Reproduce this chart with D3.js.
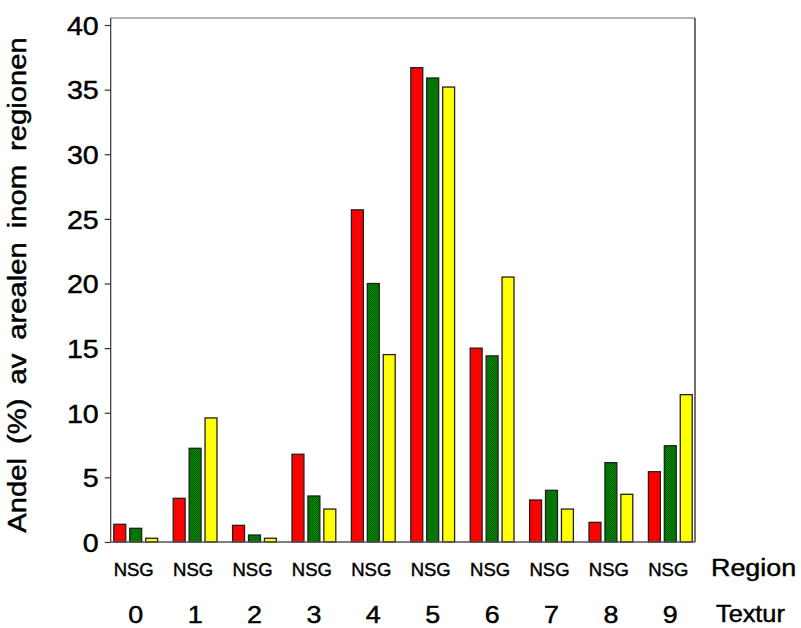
<!DOCTYPE html>
<html><head><meta charset="utf-8">
<script src="https://cdn.jsdelivr.net/npm/d3@7"></script>
<style>body{margin:0;background:#fff}svg{display:block;font-family:"Liberation Sans",Arial,sans-serif}
text{fill:#000;stroke:#000;stroke-width:0.45px}</style>
</head><body>
<svg id="c" width="801" height="628"></svg>
<script>
const regions = ["0","1","2","3","4","5","6","7","8","9"];
const seriesKeys = ["N","S","G"];
const valuesN = [1.37, 3.38, 1.29, 6.79, 25.7, 36.7, 15.0, 3.25, 1.52, 5.44];
const valuesS = [1.06, 7.25, 0.54, 3.56, 20.0, 35.9, 14.4, 4.0, 6.14, 7.45];
const valuesG = [0.29, 9.6, 0.29, 2.55, 14.5, 35.2, 20.5, 2.55, 3.69, 11.4];
const yTicks = [0,5,10,15,20,25,30,35,40];
const groupLabel = "NSG";
const rowLabels = ["Region","Textur"];
const yTitle = "Andel (%) av arealen inom regionen";

(function(){
const svg = d3.select("#c");
const defs = svg.append("defs");
const pat = defs.append("pattern").attr("id","gpat").attr("width",2).attr("height",2).attr("patternUnits","userSpaceOnUse");
pat.append("rect").attr("width",2).attr("height",2).attr("fill","#008a00");
pat.append("rect").attr("width",1).attr("height",1).attr("fill","#006000");
pat.append("rect").attr("x",1).attr("y",1).attr("width",1).attr("height",1).attr("fill","#006000");

const colors = {N:"#ff0000", S:"url(#gpat)", G:"#ffff00"};
const data = regions.map((r,i)=>({region:r, N:valuesN[i], S:valuesS[i], G:valuesG[i]}));

const pLeft=110.7, pRight=695, pTop=18, pBottom=542;
const y = d3.scaleLinear().domain([0,40]).range([542,25]);
const x = d3.scaleBand().domain(regions).range([113.3,692.7]).paddingInner(0.246).paddingOuter(0);
const xs = d3.scaleBand().domain(seriesKeys).range([0,x.bandwidth()]).paddingInner(0.1875);

// frame
svg.append("line").attr("x1",pLeft).attr("x2",pRight).attr("y1",pTop).attr("y2",pTop).attr("stroke","#666").attr("stroke-width",1.2);
svg.append("line").attr("x1",pRight).attr("x2",pRight).attr("y1",pTop).attr("y2",pBottom).attr("stroke","#111").attr("stroke-width",1.2);

// bars
const g = svg.append("g");
data.forEach(d=>{
  seriesKeys.forEach(k=>{
    g.append("rect")
      .attr("x", x(d.region)+xs(k)+0.5)
      .attr("y", y(d[k]))
      .attr("width", xs.bandwidth()-1)
      .attr("height", y(0)-y(d[k]))
      .attr("fill", colors[k])
      .attr("stroke","#222").attr("stroke-width",1.3);
  });
});

// y axis
const ya = svg.append("g").attr("transform",`translate(${pLeft},0)`)
  .call(d3.axisLeft(y).tickValues(yTicks).tickSize(6).tickPadding(6).tickFormat(d3.format("d")));
ya.select(".domain").attr("stroke","#333").attr("stroke-width",1.2).attr("d",`M0,${pTop}V${pBottom}`);
ya.selectAll(".tick line").attr("stroke","#333").attr("stroke-width",1.2);
ya.selectAll(".tick text").attr("font-size",26).attr("font-family","Liberation Sans, Arial, sans-serif")
  .attr("dy","0.36em").attr("transform","translate(-12,0) scale(1.1,1) translate(12,0)");

// x baseline
svg.append("line").attr("x1",pLeft).attr("x2",pRight).attr("y1",pBottom).attr("y2",pBottom).attr("stroke","#555").attr("stroke-width",1.4);

// group labels
svg.append("g").selectAll("text").data(regions).join("text")
  .attr("transform", d=>`translate(${x(d)+x.bandwidth()/2-2},576)`)
  .attr("text-anchor","middle").attr("font-size",18.5).text(groupLabel);
svg.append("g").selectAll("text").data(regions).join("text")
  .attr("transform", d=>`translate(${x(d)+x.bandwidth()/2},623) scale(1.12,1)`)
  .attr("text-anchor","middle").attr("font-size",24).text(d=>d);

svg.append("text").attr("transform","translate(711,576) scale(1.12,1)").attr("font-size",24).text(rowLabels[0]);
svg.append("text").attr("transform","translate(716,622) scale(1.1,1)").attr("font-size",23).text(rowLabels[1]);

// y title
svg.append("text").attr("transform",`translate(25.5,${(37+533)/2}) rotate(-90) scale(1.17,1)`)
  .attr("text-anchor","middle").attr("font-size",25).attr("word-spacing",5).text(yTitle);
})();
</script>
</body></html>
